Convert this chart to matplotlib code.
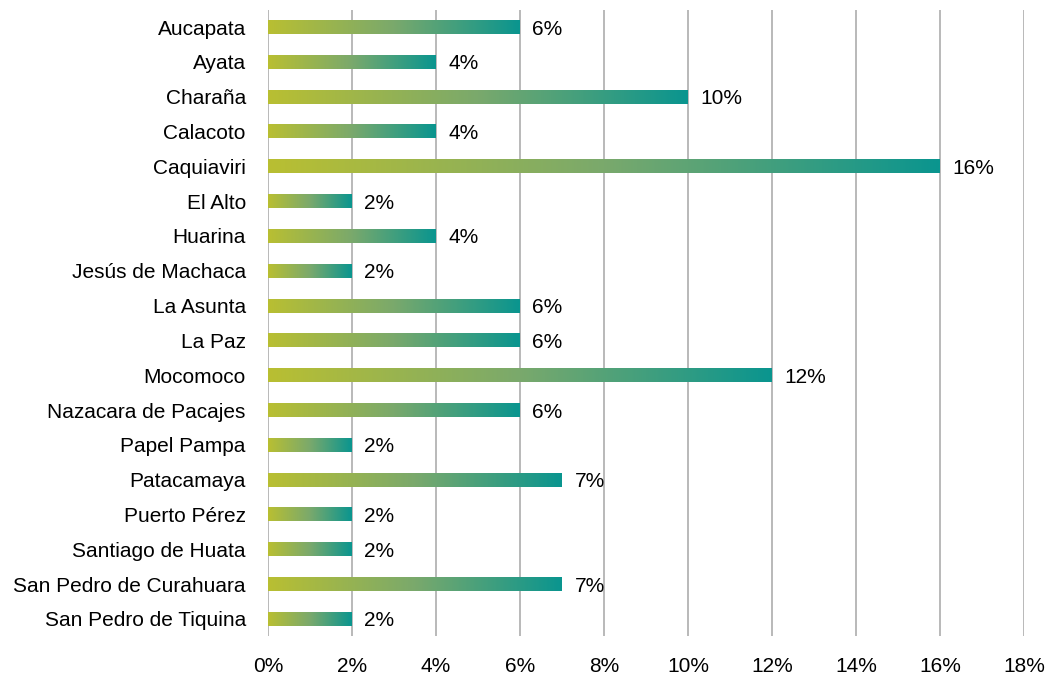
import numpy as np
import matplotlib.pyplot as plt
from matplotlib.colors import LinearSegmentedColormap

municipios = ['Aucapata', 'Ayata', 'Charaña', 'Calacoto', 'Caquiaviri', 'El Alto',
              'Huarina', 'Jesús de Machaca', 'La Asunta', 'La Paz', 'Mocomoco',
              'Nazacara de Pacajes', 'Papel Pampa', 'Patacamaya', 'Puerto Pérez',
              'Santiago de Huata', 'San Pedro de Curahuara', 'San Pedro de Tiquina']
porcentajes = [6, 4, 10, 4, 16, 2, 4, 2, 6, 6, 12, 6, 2, 7, 2, 2, 7, 2]
xticks = [0, 2, 4, 6, 8, 10, 12, 14, 16, 18]

plt.rcParams['font.family'] = ['Liberation Sans', 'DejaVu Sans']

cmap = LinearSegmentedColormap.from_list('verde', ['#b9bf32', '#7aa96c', '#0a958f'])
grad = np.linspace(0, 1, 256).reshape(1, -1)

fig = plt.figure(figsize=(10.48, 6.78), dpi=100)
ax = fig.add_axes([0.2557, 0.0614, 0.7213, 0.9244])

n = len(municipios)
y = np.arange(n)
h = 0.4
for yi, v in zip(y, porcentajes):
    ax.imshow(grad, cmap=cmap, extent=[0, v, yi + h / 2, yi - h / 2],
              aspect='auto', zorder=3, interpolation='bilinear')
    ax.annotate(f'{v}%', (v, yi), xytext=(9, 0), textcoords='offset points',
                va='center_baseline', ha='left', fontsize=15)

ax.set_xlim(0, 18)
ax.set_ylim(n - 0.5, -0.5)
ax.set_yticks(y)
ax.set_yticklabels(municipios, fontsize=15, va='center_baseline')
ax.set_xticks(xticks)
ax.set_xticklabels([f'{t}%' for t in xticks], fontsize=15)
ax.tick_params(length=0)
ax.tick_params(axis='y', pad=16)
ax.tick_params(axis='x', pad=15)
ax.grid(axis='x', color='#b3b3b3', linewidth=1.3, zorder=0)
ax.set_axisbelow(True)
for s in ax.spines.values():
    s.set_visible(False)

plt.savefig('out.png', dpi=100)
